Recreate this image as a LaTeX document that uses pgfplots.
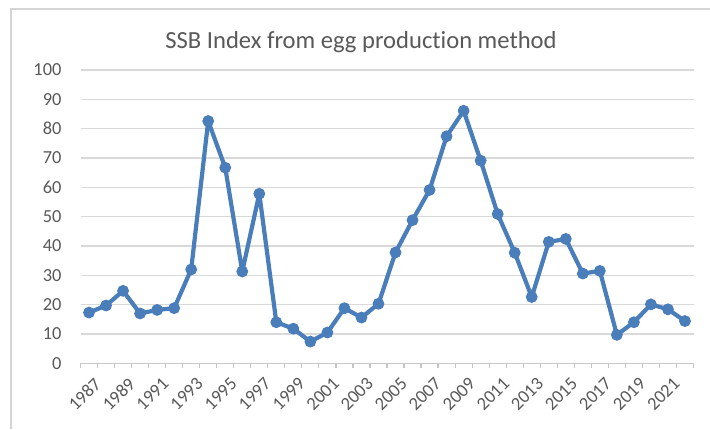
\documentclass[border=0pt]{standalone}
\usepackage{pgfplots}
\pgfplotsset{compat=1.18}
\usepackage{fontspec}
\setmainfont{Carlito}[Ligatures=NoCommon]
\definecolor{lineblue}{HTML}{4A7EBB}
\definecolor{txtgrey}{HTML}{595959}
\definecolor{gridgrey}{HTML}{D9D9D9}
\definecolor{framegrey}{HTML}{D4D4D4}
\begin{document}
\begin{tikzpicture}[x=0.5pt,y=0.5pt]
\useasboundingbox (0,0) rectangle (710,429);
\fill[white] (0,0) rectangle (710,429);
\draw[framegrey, line width=1pt] (11,0) -- (11,420) -- (712,420);
\node[txtgrey, font=\fontsize{12.3}{14}\selectfont] at (361,387) {SSB Index from egg production method};
\begin{axis}[
  at={(40.25pt,32.85pt)}, anchor=south west,
  scale only axis, width=306.5pt, height=146.65pt,
  xmin=1986.5, xmax=2022.5, ymin=0, ymax=100,
  axis lines*=left,
  y axis line style={draw=none},
  x axis line style={gridgrey!80!black!40!gridgrey, line width=0.8pt},
  ytick={0,10,...,100},
  ymajorgrids, grid style={gridgrey, line width=0.8pt},
  ytick style={draw=none},
  xtick={1987,1989,...,2021},
  major x tick style={draw=none},
  minor xtick={1986.5,1987.5,...,2022.5},
  minor x tick style={gridgrey!70!black!30!gridgrey, line width=0.6pt},
  minor tick length=2.5pt,
  xtick align=outside,
  tick label style={txtgrey, font=\fontsize{9.2}{10}\selectfont},
  /pgf/number format/assume math mode=true,
  /pgf/number format/1000 sep={},
  xticklabel style={rotate=45, anchor=north east, inner sep=1pt, yshift=-2pt, xshift=1pt},
  yticklabel style={xshift=-6pt},
  clip=false,
]
\addplot[lineblue, line width=2.1pt, line join=round, mark=*, mark size=2.7pt, mark options={fill=lineblue, draw=lineblue, line width=0.5pt}]
coordinates {
(1987,17.3) (1988,19.7) (1989,24.7) (1990,17.0) (1991,18.2) (1992,18.8)
(1993,32.0) (1994,82.6) (1995,66.7) (1996,31.3) (1997,57.8) (1998,14.0)
(1999,11.8) (2000,7.4) (2001,10.5) (2002,18.8) (2003,15.6) (2004,20.3)
(2005,37.8) (2006,48.8) (2007,59.1) (2008,77.4) (2009,86.1) (2010,69.1)
(2011,50.9) (2012,37.7) (2013,22.6) (2014,41.4) (2015,42.4) (2016,30.6)
(2017,31.5) (2018,9.7) (2019,14.0) (2020,20.1) (2021,18.4) (2022,14.4)
};
\end{axis}
\end{tikzpicture}
\end{document}
